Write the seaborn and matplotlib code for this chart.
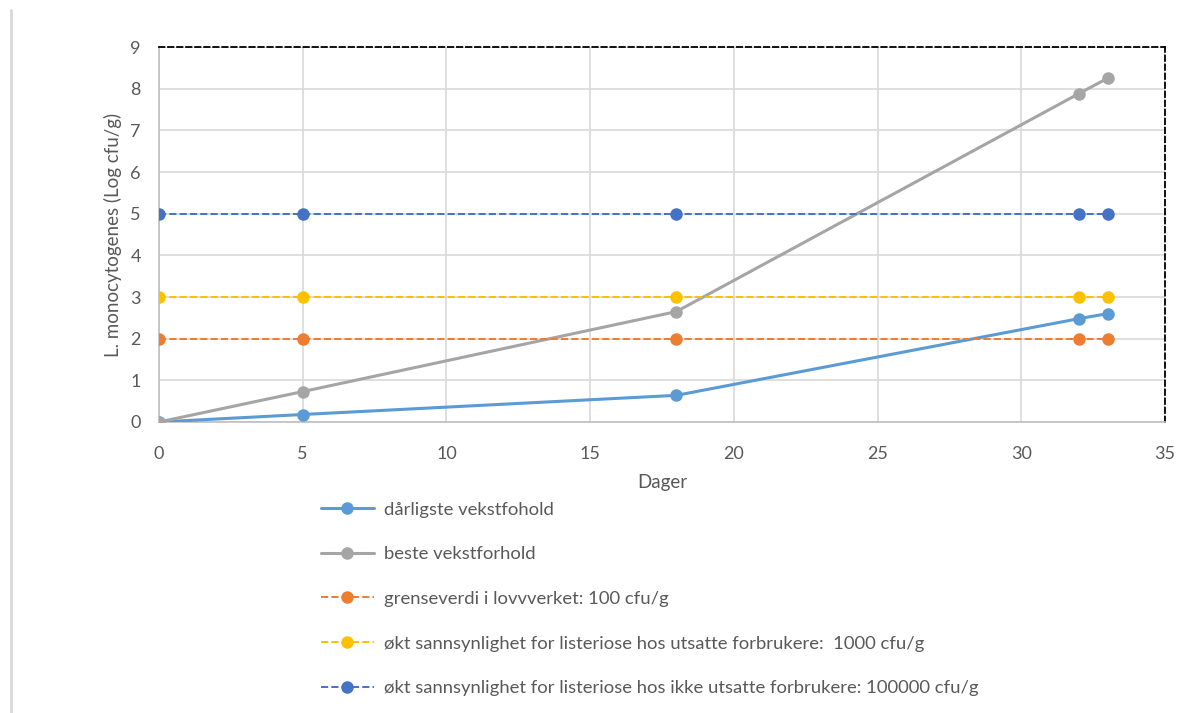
import matplotlib
matplotlib.use("Agg")
import matplotlib.pyplot as plt
import seaborn as sns
import pandas as pd
from matplotlib.lines import Line2D

days = [0, 5, 18, 32, 33]
worst = [0, 0.18, 0.64, 2.48, 2.6]
best = [0, 0.73, 2.65, 7.88, 8.25]
limit_law = [2, 2, 2, 2, 2]
limit_vuln = [3, 3, 3, 3, 3]
limit_gen = [5, 5, 5, 5, 5]

labels = [
    "dårligste vekstfohold",
    "beste vekstforhold",
    "grenseverdi i lovvverket: 100 cfu/g",
    "økt sannsynlighet for listeriose hos utsatte forbrukere:  1000 cfu/g",
    "økt sannsynlighet for listeriose hos ikke utsatte forbrukere: 100000 cfu/g",
]
series = [worst, best, limit_law, limit_vuln, limit_gen]
colors = ["#5B9BD5", "#A5A5A5", "#ED7D31", "#FFC000", "#4472C4"]
styles = ["-", "-", "--", "--", "--"]
widths = [2.2, 2.2, 1.4, 1.4, 1.4]

sns.set_theme(style="white")
plt.rcParams["font.family"] = ["Lato", "DejaVu Sans"]
text_color = "#595959"

fig = plt.figure(figsize=(11.95, 7.13), dpi=100)
ax = fig.add_axes([159 / 1195, 1 - 422 / 713, (1165 - 159) / 1195, (422 - 47) / 713])

handles = []
for i in range(5):
    df = pd.DataFrame({"Dager": days, "val": series[i]})
    sns.lineplot(data=df, x="Dager", y="val", ax=ax, color=colors[i],
                 linestyle=styles[i], linewidth=widths[i], marker="o",
                 markersize=9, markeredgewidth=0, zorder=3 + i)
    handles.append(Line2D([0], [0], color=colors[i], linestyle=styles[i],
                          linewidth=widths[i], marker="o", markersize=9,
                          markeredgewidth=0))

ax.set_xlim(0, 35)
ax.set_ylim(0, 9)
ax.set_xticks(range(0, 36, 5))
ax.set_yticks(range(0, 10))
ax.grid(True, color="#D9D9D9", linewidth=1.2)
ax.set_axisbelow(True)
ax.tick_params(axis="both", length=0, labelsize=13, labelcolor=text_color)
ax.tick_params(axis="x", pad=17)
ax.tick_params(axis="y", pad=13)
ax.set_xlabel("Dager", fontsize=13.5, color=text_color, labelpad=9)
ax.set_ylabel("L. monocytogenes (Log cfu/g)", fontsize=13.5, color=text_color, labelpad=6)

for s in ["left", "bottom"]:
    ax.spines[s].set_color("#BFBFBF")
    ax.spines[s].set_linewidth(1.2)
for s in ["top", "right"]:
    ax.spines[s].set_color("black")
    ax.spines[s].set_linestyle((0, (3, 2)))
    ax.spines[s].set_linewidth(1.3)
    ax.spines[s].set_visible(True)

leg = fig.legend(handles, labels, loc="upper left",
                 bbox_to_anchor=(304 / 1195, 1 - 485 / 713), frameon=False,
                 fontsize=13.3, labelcolor=text_color, labelspacing=1.55,
                 handlelength=2.9, handletextpad=0.55)

# thin grey frame line at left edge of figure
fig.add_artist(Line2D([11 / 1195, 11 / 1195], [0, 1 - 10 / 713],
                      transform=fig.transFigure, color="#D9D9D9", linewidth=2))

fig.savefig("out.png", dpi=100)
